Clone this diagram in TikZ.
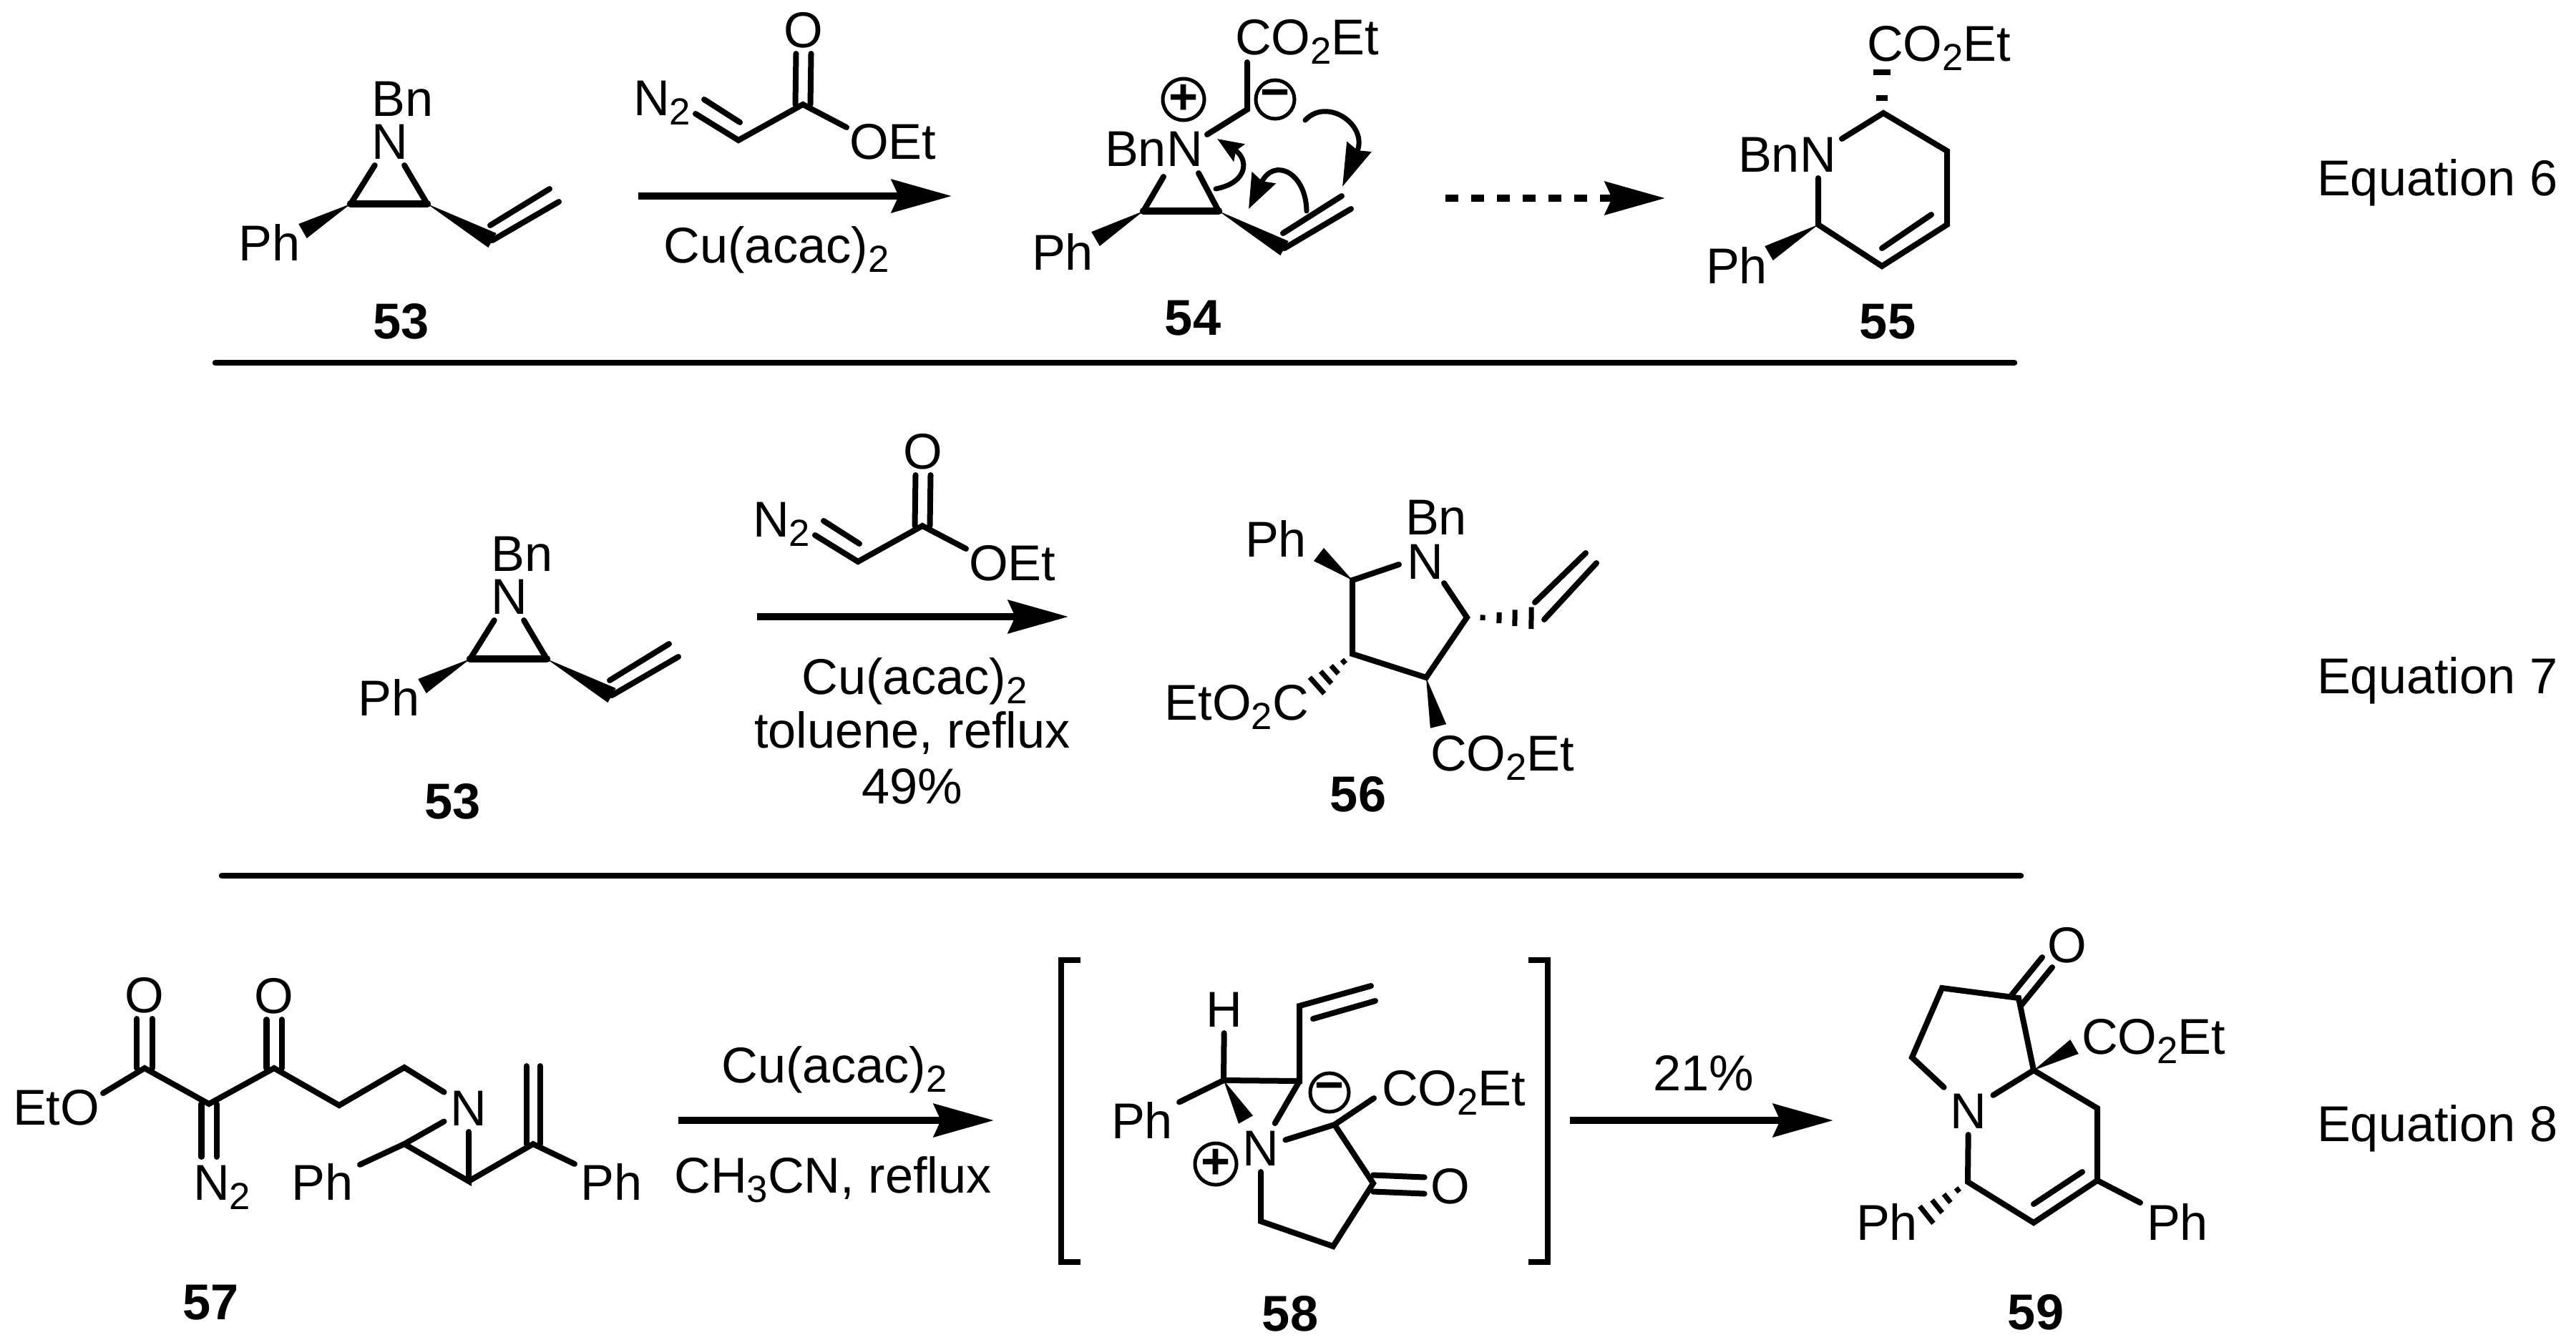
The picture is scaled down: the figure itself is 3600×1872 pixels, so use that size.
\documentclass[tikz,border=0pt]{standalone}
\usepackage{fontspec}
\setmainfont{Liberation Sans}
\usetikzlibrary{arrows.meta,calc}
\newcommand{\wedgebond}[2]{\fill (#1) -- ($(#2)!.115cm!90:(#1)$) -- ($(#2)!.115cm!-90:(#1)$) -- cycle;}
\newcommand{\hashbond}[2]{\foreach \t in {.22,.45,.67,.9} \draw[line width=.7mm] ($(#1)!\t!(#2)!\t*.17cm!90:(#2)$) -- ($(#1)!\t!(#2)!\t*.17cm!-90:(#2)$);}
\newcommand{\lowsub}[1]{\raisebox{-3.7pt}{\fontsize{15}{15}\selectfont #1}}
\tikzset{
  lab/.style={font=\fontsize{20}{24}\selectfont,inner sep=0pt,outer sep=.9mm,text height=.5cm,text depth=0pt},
  cpd/.style={lab,font=\fontsize{20}{24}\selectfont\bfseries},
  bond/.style={line width=.8mm,line cap=round,line join=miter},
  boldbond/.style={line width=1.05mm,line cap=round},
  chg/.style={circle,draw,line width=.5mm,minimum size=5.4mm,inner sep=0pt,font=\fontsize{20}{20}\selectfont\bfseries},
  rxn/.style={line width=1mm,-{Stealth[length=8.4mm,width=4.6mm,inset=1mm]}},
  rule/.style={line width=.85mm,line cap=round},
  curly/.style 2 args={line width=.7mm,line cap=round,-{Stealth[length=#1,width=#2,inset=.5mm]}},
  pics/aziridine/.style={code={
    \node[lab,outer sep=0pt] (bn) at (563,137) {Bn};
    \node[lab] (n) at (545,197) {N};
    \node[lab] (ph) at (377,339) {Ph};
    \coordinate (c1) at (490,285);
    \coordinate (c2) at (597,285);
    \coordinate (w1) at (423,323);
    \coordinate (v1) at (688,336);
    \coordinate (v2) at (781,282);
    \coordinate (v3) at (685,315);
    \coordinate (v4) at (768,264);
    \draw[bond] (n) -- (c1);
    \draw[bond] (n) -- (c2);
    \draw[boldbond] (c1) -- (c2);
    \wedgebond{c1}{w1}
    \wedgebond{c2}{v1}
    \draw[bond] (v1) -- (v2);
    \draw[bond] (v3) -- (v4);
  }},
  pics/diazoester/.style={code={
    \node[lab] (o) at (1123,41) {O};
    \node[lab,anchor=west] (oet) at (1178,197) {OEt};
    \node[lab,anchor=west] (n2) at (876,136) {N\lowsub{2}};
    \coordinate (co) at (1122,146);
    \coordinate (ch) at (1032,196);
    \coordinate (d1) at (972,159);
    \coordinate (d2) at (984,139);
    \coordinate (d3) at (1034,171);
    \coordinate (e1) at (1183,178);
    \draw[bond] ([xshift=-1.05mm]co) -- ([xshift=-1.05mm]o.south);
    \draw[bond] ([xshift=1.05mm]co) -- ([xshift=1.05mm]o.south);
    \draw[bond] (d1) -- (ch) -- (co) -- (e1);
    \draw[bond] (d2) -- (d3);
  }}
}
\begin{document}
\begin{tikzpicture}[x=.01cm,y=-.01cm]
\useasboundingbox (0,0) rectangle (3600,1872);

\pic (aa) at (0,0) {aziridine};
\pic (ra) at (0,0) {diazoester};
\node[cpd] (c53a) at (561,448) {53};
\coordinate (a1s) at (892,274);
\coordinate (a1e) at (1330,274);
\draw[rxn] (a1s) -- (a1e);
\node[lab] (cua) at (1085,342) {Cu(acac)\lowsub{2}};

\node[lab,anchor=west] (co54) at (1717,51) {CO\lowsub{2}Et};
\node[lab,anchor=west] (bnn54) at (1535,207) {BnN};
\node[lab] (ph54) at (1485,352) {Ph};
\node[chg] (plus54) at (1654,139) {+};
\node[chg] (minus54) at (1782,139) {−};
\coordinate (cm) at (1743,153);
\coordinate (cma) at (1743,87);
\coordinate (cmb) at (1687,188);
\coordinate (ra1) at (1626,247);
\coordinate (ra2) at (1675,242);
\coordinate (rc1) at (1598,295);
\coordinate (rc2) at (1703,295);
\coordinate (rw) at (1531,334);
\coordinate (rv1) at (1795,347);
\coordinate (rv2) at (1888,292);
\coordinate (rv3) at (1793,326);
\coordinate (rv4) at (1875,274);
\draw[bond] (cma) -- (cm) -- (cmb);
\draw[bond] (ra1) -- (rc1);
\draw[bond] (ra2) -- (rc2);
\draw[boldbond] (rc1) -- (rc2);
\wedgebond{rc1}{rw}
\wedgebond{rc2}{rv1}
\draw[bond] (rv1) -- (rv2);
\draw[bond] (rv3) -- (rv4);
\draw[curly={6mm}{3.6mm}] (1824,168) .. controls (1855,135) and (1912,175) .. (1876,261);
\draw[curly={3.6mm}{2.8mm}] (1699,264) .. controls (1745,255) and (1745,222) .. (1701,194);
\draw[curly={4.8mm}{3.6mm}] (1826,295) .. controls (1825,240) and (1780,220) .. (1745,292);
\node[cpd] (c54) at (1667,443) {54};

\coordinate (a2s) at (2020,277);
\coordinate (a2e) at (2327,277);
\draw[rxn,dash pattern=on 1.8mm off 1.8mm] (a2s) -- (a2e);

\node[lab,anchor=west] (co55) at (2600,60) {CO\lowsub{2}Et};
\node[lab,anchor=west] (bnn55) at (2420,215) {BnN};
\node[lab] (ph55) at (2427,371) {Ph};
\coordinate (s1) at (2632,158);
\coordinate (s1a) at (2574,194);
\coordinate (s2) at (2721,211);
\coordinate (s3) at (2721,314);
\coordinate (s4) at (2630,372);
\coordinate (s5) at (2541,314);
\coordinate (s5a) at (2541,249);
\coordinate (s6) at (2699,300);
\coordinate (s7) at (2630,347);
\coordinate (s8) at (2472,354);
\draw[bond] (s1a) -- (s1) -- (s2) -- (s3) -- (s4) -- (s5) -- (s5a);
\draw[bond] (s6) -- (s7);
\wedgebond{s5}{s8}
\fill (2622,133) rectangle (2638,141);
\fill (2618,97) rectangle (2642,105);
\node[cpd] (c55) at (2638,448) {55};

\coordinate (l1s) at (301,507);
\coordinate (l1e) at (2815,507);
\draw[rule] (l1s) -- (l1e);
\node[lab,anchor=west] (eq6) at (3229,248) {Equation 6};

\pic (ab) at (167,636) {aziridine};
\pic (rb) at (167,589) {diazoester};
\node[cpd] (c53b) at (633,1119) {53};
\coordinate (a3s) at (1058,862);
\coordinate (a3e) at (1493,862);
\draw[rxn] (a3s) -- (a3e);
\node[lab] (cub) at (1278,945) {Cu(acac)\lowsub{2}};
\node[lab] (tol) at (1275,1020) {toluene, reflux};
\node[lab] (y49) at (1275,1098) {49\%};

\node[lab,outer sep=0pt] (bn56) at (2007,722) {Bn};
\node[lab] (n56) at (1992,784) {N};
\node[lab] (ph56) at (1783,753) {Ph};
\node[lab,anchor=east] (etc56) at (1838,981) {EtO\lowsub{2}C};
\node[lab,anchor=west] (co56) at (1990,1052) {CO\lowsub{2}Et};
\coordinate (p1) at (1890,811);
\coordinate (p2) at (1890,914);
\coordinate (p3) at (1993,947);
\coordinate (p4) at (2050,863);
\coordinate (p5) at (2018,815);
\coordinate (p6) at (1955,789);
\coordinate (p7) at (1843,775);
\coordinate (p8) at (2010,1015);
\coordinate (p9) at (1835,963);
\coordinate (p10) at (2150,864);
\coordinate (v5) at (2231,787);
\coordinate (v6) at (2145,842);
\coordinate (v7) at (2216,773);
\coordinate (v8) at (2158,866);
\draw[bond] (p6) -- (p1) -- (p2) -- (p3) -- (p4) -- (p5);
\wedgebond{p1}{p7}
\wedgebond{p3}{p8}
\hashbond{p4}{p10}
\hashbond{p2}{p9}
\draw[bond] (v8) -- (v5);
\draw[bond] (v6) -- (v7);
\node[cpd] (c56) at (1898,1109) {56};

\coordinate (l2s) at (310,1224);
\coordinate (l2e) at (2824,1224);
\draw[rule] (l2s) -- (l2e);
\node[lab,anchor=west] (eq7) at (3229,944) {Equation 7};

\node[lab,anchor=west] (eto57) at (9,1547) {EtO};
\node[lab] (oa57) at (202,1390) {O};
\node[lab] (ob57) at (383,1391) {O};
\node[lab,anchor=west] (nn57) at (261,1652) {N\lowsub{2}};
\node[lab] (n57) at (655,1548) {N};
\node[lab] (pha57) at (451,1652) {Ph};
\node[lab] (phb57) at (855,1652) {Ph};
\coordinate (q0) at (144,1528);
\coordinate (q1) at (202,1493);
\coordinate (q2) at (292,1543);
\coordinate (q3) at (383,1493);
\coordinate (q4) at (474,1545);
\coordinate (q5) at (565,1492);
\coordinate (q6) at (565,1599);
\coordinate (q7) at (655,1651);
\coordinate (q8) at (745,1599);
\coordinate (q9) at (745,1490);
\coordinate (q10) at (292,1617);
\draw[bond] (q0) -- (q1) -- (q2) -- (q3) -- (q4) -- (q5) -- (n57);
\draw[bond] ([xshift=-1.05mm]q1) -- ([xshift=-1.05mm]oa57.south);
\draw[bond] ([xshift=1.05mm]q1) -- ([xshift=1.05mm]oa57.south);
\draw[bond] ([xshift=-1.05mm]q3) -- ([xshift=-1.05mm]ob57.south);
\draw[bond] ([xshift=1.05mm]q3) -- ([xshift=1.05mm]ob57.south);
\draw[bond] ([xshift=-1.05mm]q2) -- ([xshift=-1.05mm]q10);
\draw[bond] ([xshift=1.05mm]q2) -- ([xshift=1.05mm]q10);
\draw[bond] (pha57) -- (q6);
\draw[bond] (n57) -- (q6) -- (q7) -- (n57);
\draw[bond] (q7) -- (q8) -- (phb57);
\draw[bond] ([xshift=-.95mm]q8) -- ([xshift=-.95mm]q9);
\draw[bond] ([xshift=.95mm]q8) -- ([xshift=.95mm]q9);
\node[cpd] (c57) at (295,1819) {57};

\coordinate (a4s) at (948,1566);
\coordinate (a4e) at (1389,1566);
\draw[rxn] (a4s) -- (a4e);
\node[lab] (cuc) at (1166,1488) {Cu(acac)\lowsub{2}};
\node[lab] (cnr) at (1164,1642) {CH\lowsub{3}CN, reflux};

\coordinate (b1a) at (1510,1342);
\coordinate (b1b) at (1483,1342);
\coordinate (b1c) at (1483,1764);
\coordinate (b1d) at (1510,1764);
\coordinate (b2a) at (2136,1342);
\coordinate (b2b) at (2163,1342);
\coordinate (b2c) at (2163,1764);
\coordinate (b2d) at (2136,1764);
\draw[bond,line cap=butt] (b1a) -- (b1b) -- (b1c) -- (b1d);
\draw[bond,line cap=butt] (b2a) -- (b2b) -- (b2c) -- (b2d);

\node[lab] (h58) at (1711,1410) {H};
\node[lab] (ph58) at (1596,1566) {Ph};
\node[lab] (n58) at (1762,1604) {N};
\node[lab,anchor=west] (co58) at (1922,1520) {CO\lowsub{2}Et};
\node[lab] (o58) at (2027,1657) {O};
\node[chg] (plus58) at (1699,1627) {+};
\node[chg] (minus58) at (1858,1527) {−};
\coordinate (t1) at (1710,1510);
\coordinate (t2) at (1816,1511);
\coordinate (t3) at (1816,1406);
\coordinate (t4) at (1916,1378);
\coordinate (t5) at (1835,1424);
\coordinate (t6) at (1922,1399);
\coordinate (t7) at (1741,1565);
\coordinate (t8) at (1865,1572);
\coordinate (t9) at (1919,1654);
\coordinate (t10) at (1863,1742);
\coordinate (t11) at (1762,1707);
\coordinate (t12) at (1920,1535);
\draw[bond] (h58) -- (t1) -- (ph58);
\draw[bond] (t1) -- (t2) -- (t3) -- (t4);
\draw[bond] (t5) -- (t6);
\draw[bond] (t2) -- (n58) -- (t8) -- (t12);
\draw[bond] (t8) -- (t9) -- (t10) -- (t11) -- (n58);
\draw[bond] ([yshift=-1.15mm]t9) -- ([yshift=-1.15mm]o58.west);
\draw[bond] ([yshift=1.15mm]t9) -- ([yshift=1.15mm]o58.west);
\wedgebond{t1}{t7}
\node[cpd] (c58) at (1803,1835) {58};

\coordinate (a5s) at (2194,1566);
\coordinate (a5e) at (2562,1566);
\draw[rxn] (a5s) -- (a5e);
\node[lab] (y21) at (2381,1499) {21\%};

\node[lab] (o59) at (2889,1320) {O};
\node[lab] (n59) at (2751,1552) {N};
\node[lab,anchor=west] (co59) at (2900,1448) {CO\lowsub{2}Et};
\node[lab] (pha59) at (2637,1708) {Ph};
\node[lab] (phb59) at (3043,1708) {Ph};
\coordinate (u1) at (2821,1395);
\coordinate (u2) at (2714,1381);
\coordinate (u3) at (2672,1478);
\coordinate (u4) at (2842,1496);
\coordinate (u5) at (2931,1549);
\coordinate (u6) at (2931,1650);
\coordinate (u7) at (2842,1709);
\coordinate (u8) at (2750,1652);
\coordinate (u9) at (2910,1638);
\coordinate (u10) at (2842,1683);
\coordinate (u11) at (2899,1463);
\coordinate (u12) at (2686,1703);
\coordinate (u13) at (2854,1338);
\coordinate (u14) at (2811,1391);
\coordinate (u15) at (2868,1352);
\coordinate (u16) at (2824,1406);
\draw[bond] (n59) -- (u3) -- (u2) -- (u1) -- (u4) -- (n59);
\draw[bond] (u4) -- (u5) -- (u6) -- (u7) -- (u8) -- (n59);
\draw[bond] (u9) -- (u10);
\draw[bond] (u6) -- (phb59);
\draw[bond] (u13) -- (u14);
\draw[bond] (u15) -- (u16);
\wedgebond{u4}{u11}
\hashbond{u8}{u12}
\node[cpd] (c59) at (2845,1833) {59};
\node[lab,anchor=west] (eq8) at (3229,1570) {Equation 8};
\end{tikzpicture}
\end{document}
